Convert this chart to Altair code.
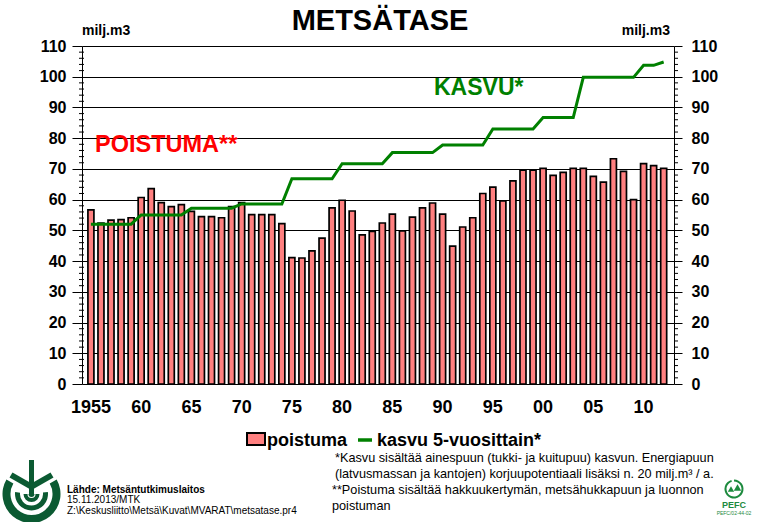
import altair as alt
import pandas as pd

# ---------------- data ----------------
years = list(range(1955, 2013))
poistuma = [56.7, 52.4, 53.3, 53.5, 54.1, 60.7, 63.6, 59.0, 57.7, 58.4,
            56.2, 54.5, 54.5, 54.1, 57.7, 59.0, 55.1, 55.1, 55.1, 52.2,
            41.1, 41.0, 43.3, 47.5, 57.3, 59.8, 56.3, 48.5, 49.7, 52.4,
            55.3, 49.8, 54.3, 57.3, 58.9, 55.3, 44.9, 51.1, 54.1, 62.0,
            64.1, 59.6, 66.1, 69.6, 69.6, 70.2, 67.9, 68.9, 70.2, 70.2,
            67.6, 65.7, 73.3, 69.2, 60.0, 71.7, 71.1, 70.2]
kasvu = [52.0, 52.0, 52.0, 52.0, 52.0, 55.0, 55.0, 55.0, 55.0, 55.0,
         57.2, 57.2, 57.2, 57.2, 57.2, 58.6, 58.6, 58.6, 58.6, 58.6,
         66.8, 66.8, 66.8, 66.8, 66.8, 71.7, 71.7, 71.7, 71.7, 71.7,
         75.3, 75.3, 75.3, 75.3, 75.3, 77.8, 77.8, 77.8, 77.8, 77.8,
         83.0, 83.0, 83.0, 83.0, 83.0, 86.7, 86.7, 86.7, 86.7, 99.8,
         99.8, 99.8, 99.8, 99.8, 99.8, 103.7, 103.7, 104.8]
tick_years = [1955, 1960, 1965, 1970, 1975, 1980, 1985, 1990, 1995, 2000, 2005, 2010]
tick_labels = ["1955", "60", "65", "70", "75", "80", "85", "90", "95", "00", "05", "10"]
y_major = [0, 10, 20, 30, 40, 50, 60, 70, 80, 90, 100, 110]
y_minor = [v for v in range(0, 111, 2) if v % 10 != 0]

title_text = "METSÄTASE"
unit_text = "milj.m3"
legend_bar = "poistuma"
legend_line = "kasvu 5-vuosittain*"
label_poistuma = "POISTUMA**"
label_kasvu = "KASVU*"
notes = [
    "*Kasvu sisältää ainespuun (tukki- ja kuitupuu) kasvun. Energiapuun",
    "(latvusmassan ja  kantojen) korjuupotentiaali lisäksi n. 20 milj.m³ / a.",
    "**Poistuma sisältää hakkuukertymän, metsähukkapuun ja luonnon",
    "poistuman",
]
source = ["Lähde: Metsäntutkimuslaitos", "15.11.2013/MTK",
          "Z:\\Keskusliitto\\Metsä\\Kuvat\\MVARAT\\metsatase.pr4"]

df = pd.DataFrame({"year": years, "poistuma": poistuma, "kasvu": kasvu})
tick_df = pd.DataFrame({"year": tick_years, "label": tick_labels})
minor_df = pd.DataFrame({"v": y_minor})
one = pd.DataFrame({"k": [0]})

# ---------------- layout ----------------
FONT = "Liberation Sans, Arial, sans-serif"
PL, PT = 82, 46          # plot origin in page pixels
W, H = 592, 338
RED, GREEN, PINK = "#FF0000", "#008000", "#FF8080"
LOGO = "#0b5a32"
PEFC = "#1d8a3e"


def px(x):
    return x - PL


def py(y):
    return y - PT


xscale = alt.Scale(domain=[1954.61, 2012.53], nice=False, zero=False)
yscale = alt.Scale(domain=[0, 110], nice=False)

x_axis = alt.Axis(values=years, labels=False, tickSize=8, tickColor="black",
                  domainColor="black", grid=False, title=None)
left_axis = alt.Axis(values=y_major, orient="left", grid=True, gridColor="black",
                     gridOpacity=1, gridWidth=1, tickSize=10, tickColor="black",
                     domainColor="black", labelFont=FONT, labelFontSize=16,
                     labelFontWeight="bold", labelColor="black", labelPadding=6,
                     labelFlush=False, title=None)
right_axis = alt.Axis(values=y_major, orient="right", grid=False, tickSize=8,
                      tickColor="black", domainColor="black", labelFont=FONT,
                      labelFontSize=16, labelFontWeight="bold", labelColor="black",
                      labelPadding=9, labelFlush=False, title=None)

base = alt.Chart(df)
bars = base.mark_bar(size=6, fill=PINK, stroke="black", strokeWidth=1.7).encode(
    x=alt.X("year:Q", scale=xscale, axis=x_axis),
    y=alt.Y("poistuma:Q", scale=yscale, axis=left_axis),
)
line = base.mark_line(color=GREEN, strokeWidth=3).encode(
    x=alt.X("year:Q", scale=xscale, axis=None),
    y=alt.Y("kasvu:Q", scale=yscale, axis=right_axis),
)
xlabels = alt.Chart(tick_df).mark_text(
    font=FONT, fontSize=18, fontWeight="bold", color="black", align="center",
    baseline="alphabetic").encode(
    x=alt.X("year:Q", scale=xscale, axis=None), y=alt.value(py(413.3)), text="label:N")
minor_left = alt.Chart(minor_df).mark_rule(color="black", strokeWidth=1).encode(
    y=alt.Y("v:Q", scale=yscale, axis=None), x=alt.value(-3), x2=alt.value(2))
minor_right = alt.Chart(minor_df).mark_rule(color="black", strokeWidth=1).encode(
    y=alt.Y("v:Q", scale=yscale, axis=None), x=alt.value(W), x2=alt.value(W + 4))


def txt(s, x, y, size, weight="normal", color="black", align="left", font=FONT):
    return alt.Chart(one).mark_text(
        text=s, fontSize=size, fontWeight=weight, color=color, align=align,
        baseline="alphabetic", font=font).encode(x=alt.value(px(x)), y=alt.value(py(y)))


texts = [
    txt(title_text, 380, 30, 29, "bold", align="center"),
    txt(unit_text, 82, 35, 14, "bold"),
    txt(unit_text, 670, 35, 14, "bold", align="right"),
    txt(label_poistuma, 95, 151.7, 23.5, "bold", RED),
    txt(label_kasvu, 434, 95, 23, "bold", GREEN),
    txt(legend_bar, 267, 446, 18, "bold"),
    txt(legend_line, 377, 446, 18, "bold"),
    txt(notes[0], 335, 462, 12.7),
    txt(notes[1], 335, 478, 12.7),
    txt(notes[2], 332, 494, 12.7),
    txt(notes[3], 332, 509.5, 12.7),
    txt(source[0], 67, 492.7, 10, "bold"),
    txt(source[1], 67, 503.3, 10),
    txt(source[2], 67, 514.3, 10),
    txt("PEFC", 734, 508, 9, "bold", PEFC, align="center"),
    txt("PEFC/02-44-02", 734, 515, 5, "normal", PEFC, align="center"),
]

legend_rect = alt.Chart(one).mark_rect(fill=PINK, stroke="black", strokeWidth=2).encode(
    x=alt.value(px(247)), x2=alt.value(px(265)), y=alt.value(py(433)), y2=alt.value(py(445)))
legend_ln = alt.Chart(one).mark_rule(color=GREEN, strokeWidth=3.5).encode(
    x=alt.value(px(358)), x2=alt.value(px(372)), y=alt.value(py(440)))

# ---- MTK logo (decoration) ----
cx, cy = 31.5, 494


def arc(r, r2, t1, t2, color=LOGO, x=cx, y=cy):
    return alt.Chart(one).mark_arc(radius=r, radius2=r2, theta=t1, theta2=t2,
                                   color=color).encode(x=alt.value(px(x)), y=alt.value(py(y)))


def seg(x1, y1, x2, y2, w, color=LOGO):
    return alt.Chart(one).mark_rule(color=color, strokeWidth=w).encode(
        x=alt.value(px(x1)), y=alt.value(py(y1)), x2=alt.value(px(x2)), y2=alt.value(py(y2)))


logo = [
    arc(29, 21, 1.05, 5.24),
    arc(16.5, 11.5, 1.45, 4.83),
    arc(8, 4, 1.571, 4.712),
    seg(cx, 460, cx, 494, 5),
    seg(11, 475, cx + 0.5, 487, 6),
    seg(52, 475, cx - 0.5, 487, 6),
    arc(3, 0, 1.571, 4.712),
    # PEFC emblem
    arc(9.5, 7.5, 0.0, 6.0, PEFC, 734, 489),
    alt.Chart(one).mark_point(shape="triangle-up", filled=True, size=40, color=PEFC,
                              opacity=1).encode(x=alt.value(px(731)), y=alt.value(py(489))),
    alt.Chart(one).mark_point(shape="triangle-up", filled=True, size=55, color=PEFC,
                              opacity=1).encode(x=alt.value(px(737.5)), y=alt.value(py(487.5))),
]

chart = alt.layer(
    bars, minor_left, minor_right, line, xlabels, legend_rect, legend_ln, *texts, *logo
).resolve_scale(y="shared").resolve_axis(y="independent").properties(
    width=W, height=H,
    padding={"left": PL, "top": PT, "right": 760 - PL - W, "bottom": 522 - PT - H},
    autosize=alt.AutoSizeParams(type="none"),
    background="white",
).configure_view(stroke=None)

chart.save("out.html", embed_options={"renderer": "svg", "actions": False})
